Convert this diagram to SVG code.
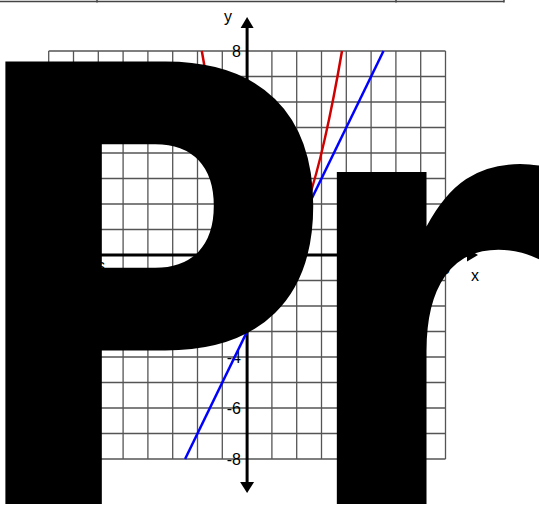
<svg xmlns="http://www.w3.org/2000/svg" width="539" height="505" viewBox="0 0 539 505">
<defs>
<style>
.grid line{stroke:#555;stroke-width:1.3}
.axis{stroke:#000;stroke-width:3}
.lbl{font-family:"Liberation Sans",Arial,sans-serif;font-size:16px;fill:#000}
.tbl{stroke:#444;stroke-width:1.5}
</style>
</defs>
<rect width="539" height="505" fill="#fff"/>
<g id="table-edge">
<line class="tbl" x1="0" y1="1.5" x2="504" y2="1.5"/>
<line class="tbl" x1="97" y1="0" x2="97" y2="2.5"/>
<line class="tbl" x1="396" y1="0" x2="396" y2="2.5"/>
<line class="tbl" x1="504" y1="0" x2="504" y2="2.5"/>
</g>
<g id="grid" class="grid">
<line x1="48.7" y1="51" x2="48.7" y2="459"/>
<line x1="73.5" y1="51" x2="73.5" y2="459"/>
<line x1="98.3" y1="51" x2="98.3" y2="459"/>
<line x1="123.1" y1="51" x2="123.1" y2="459"/>
<line x1="147.9" y1="51" x2="147.9" y2="459"/>
<line x1="172.7" y1="51" x2="172.7" y2="459"/>
<line x1="197.5" y1="51" x2="197.5" y2="459"/>
<line x1="222.3" y1="51" x2="222.3" y2="459"/>
<line x1="271.9" y1="51" x2="271.9" y2="459"/>
<line x1="296.7" y1="51" x2="296.7" y2="459"/>
<line x1="321.5" y1="51" x2="321.5" y2="459"/>
<line x1="346.3" y1="51" x2="346.3" y2="459"/>
<line x1="371.1" y1="51" x2="371.1" y2="459"/>
<line x1="395.9" y1="51" x2="395.9" y2="459"/>
<line x1="420.7" y1="51" x2="420.7" y2="459"/>
<line x1="445.5" y1="51" x2="445.5" y2="459"/>
<line x1="48.7" y1="51" x2="445.5" y2="51"/>
<line x1="48.7" y1="76.5" x2="445.5" y2="76.5"/>
<line x1="48.7" y1="102" x2="445.5" y2="102"/>
<line x1="48.7" y1="127.5" x2="445.5" y2="127.5"/>
<line x1="48.7" y1="153" x2="445.5" y2="153"/>
<line x1="48.7" y1="178.5" x2="445.5" y2="178.5"/>
<line x1="48.7" y1="204" x2="445.5" y2="204"/>
<line x1="48.7" y1="229.5" x2="445.5" y2="229.5"/>
<line x1="48.7" y1="280.5" x2="445.5" y2="280.5"/>
<line x1="48.7" y1="306" x2="445.5" y2="306"/>
<line x1="48.7" y1="331.5" x2="445.5" y2="331.5"/>
<line x1="48.7" y1="357" x2="445.5" y2="357"/>
<line x1="48.7" y1="382.5" x2="445.5" y2="382.5"/>
<line x1="48.7" y1="408" x2="445.5" y2="408"/>
<line x1="48.7" y1="433.5" x2="445.5" y2="433.5"/>
<line x1="48.7" y1="459" x2="445.5" y2="459"/>
</g>
<g id="labels" class="lbl">
<text x="241" y="56.8" text-anchor="end">8</text>
<text x="241" y="311.8" text-anchor="end">-2</text>
<text x="241" y="362.8" text-anchor="end">-4</text>
<text x="241" y="413.8" text-anchor="end">-6</text>
<text x="241" y="464.8" text-anchor="end">-8</text>
<text x="98.3" y="273.8" text-anchor="middle">-6</text>
<text x="296.7" y="273.8" text-anchor="middle">2</text>
<text x="445.5" y="273.8" text-anchor="middle">8</text>
<text x="475" y="280.5" text-anchor="middle">x</text>
<text x="228" y="21.5" text-anchor="middle">y</text>
</g>
<g id="axes">
<line class="axis" x1="20" y1="255" x2="469" y2="255"/>
<polygon points="478,255 467,248.5 467,261.5" fill="#000"/>
<line class="axis" x1="247.1" y1="26" x2="247.1" y2="484"/>
<polygon points="247.1,17 240.6,28 253.6,28" fill="#000"/>
<polygon points="247.1,493 240.1,482 254.1,482" fill="#000"/>
</g>
<g id="curves" fill="none" stroke-width="2.5">
<path id="parabola" d="M201.8,51 Q271.9,459 342,51" stroke="#d00000"/>
<line id="tangent" x1="185.1" y1="459" x2="383.5" y2="51" stroke="#0000ff"/>
</g>
<g id="point">
<circle cx="296.7" cy="229.5" r="6.5" fill="#000"/>
</g>
<g id="watermark">
<text transform="translate(-41.7,504) scale(5.13,6.07)" font-family="'DejaVu Sans',sans-serif" font-weight="bold" font-size="100" fill="#000">P<tspan dx="-7.9">r</tspan></text>
</g>
</svg>
